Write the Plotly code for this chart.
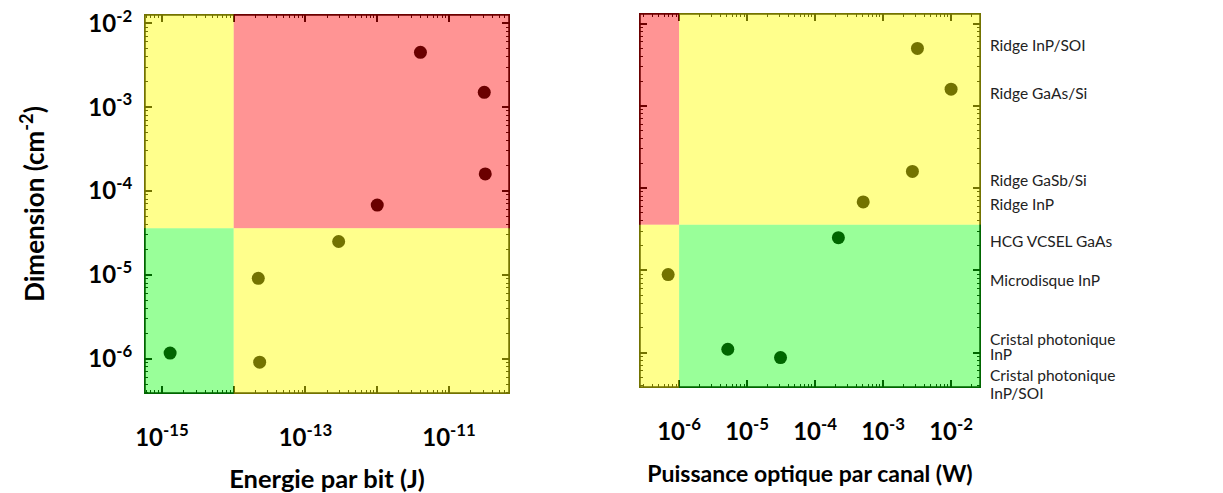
import plotly.graph_objects as go

# ---------------- data ----------------
energy_J = [4.0e-12, 3.1e-11, 3.2e-11, 1.0e-12, 2.9e-13, 2.2e-14, 2.3e-14, 1.3e-15]
dimension_left = [4.5e-3, 1.5e-3, 1.6e-4, 6.8e-5, 2.5e-5, 9.1e-6, 9.1e-7, 1.17e-6]

power_W = [3.2e-3, 1.0e-2, 2.7e-3, 5.1e-4, 2.2e-4, 6.9e-7, 5.2e-6, 3.1e-5]
dimension_right = [5.0e-3, 1.6e-3, 1.6e-4, 6.8e-5, 2.5e-5, 8.9e-6, 1.1e-6, 8.7e-7]

device_labels = ["Ridge InP/SOI", "Ridge GaAs/Si", "Ridge GaSb/Si", "Ridge InP",
                 "HCG VCSEL GaAs", "Microdisque InP",
                 "Cristal photonique<br>InP", "Cristal photonique<br>InP/SOI"]

energy_threshold = 1e-14
power_threshold = 1e-6
dimension_threshold = 3.6e-5

left_x_ticks = [1e-15, 1e-14, 1e-13, 1e-12, 1e-11, 1e-10]
left_x_text = ["10<sup>-15</sup>", " ", "10<sup>-13</sup>", " ", "10<sup>-11</sup>", " "]
right_x_ticks = [1e-6, 1e-5, 1e-4, 1e-3, 1e-2]
right_x_text = ["10<sup>-6</sup>", "10<sup>-5</sup>", "10<sup>-4</sup>", "10<sup>-3</sup>", "10<sup>-2</sup>"]
y_ticks = [1e-6, 1e-5, 1e-4, 1e-3, 1e-2]
y_text = ["10<sup>-6</sup>", "10<sup>-5</sup>", "10<sup>-4</sup>", "10<sup>-3</sup>", "10<sup>-2</sup>"]

# ---------------- layout helpers ----------------
W, H = 1223, 493
LX_RANGE = [-15.25, -10.15]
RX_RANGE = [-6.59, -1.56]
LY_RANGE = [-6.42, -1.89]
RY_RANGE = [-6.43, -1.87]

def minor_vals(lo, hi):
    vals = []
    for d in range(int(lo) - 1, int(hi) + 2):
        for m in range(2, 10):
            vals.append(m * 10.0 ** d)
    return vals

FONT = "Lato"
tickfont = dict(family=FONT, size=24, color="black", weight="bold")

def titlefont(size):
    return dict(family=FONT, size=size, color="black", weight="bold")

def axis_common(rng):
    return dict(
        type="log", range=rng, showgrid=False, zeroline=False, automargin=False,
        showline=True, linecolor="rgba(0,0,0,0)", linewidth=1, mirror="allticks",
        ticks="inside", ticklen=8, tickwidth=1.5, tickcolor="black",
        tickfont=tickfont, tickmode="array",
        minor=dict(ticks="inside", ticklen=4, tickwidth=1.2, tickcolor="black",
                   tickmode="array", tickvals=minor_vals(rng[0], rng[1]), showgrid=False),
    )

fig = go.Figure()
marker = dict(color="black", size=13)
fig.add_trace(go.Scatter(x=energy_J, y=dimension_left, mode="markers", marker=marker,
                         xaxis="x", yaxis="y", showlegend=False))
fig.add_trace(go.Scatter(x=power_W, y=dimension_right, mode="markers", marker=marker,
                         xaxis="x2", yaxis="y2", showlegend=False))

xa = axis_common(LX_RANGE)
xa.update(domain=[144 / W, 510 / W], anchor="y", tickvals=left_x_ticks, ticktext=left_x_text,
          ticklabelstandoff=22,
          title=dict(text="Energie par bit (J)", font=titlefont(25.5), standoff=22))
ya = axis_common(LY_RANGE)
ya.update(domain=[1 - 394 / H, 1 - 14 / H], anchor="x", tickvals=y_ticks, ticktext=y_text,
          ticklabelstandoff=6,
          title=dict(text="Dimension (cm<sup>-2</sup>)", font=titlefont(26), standoff=36))
xa2 = axis_common(RX_RANGE)
xa2.update(domain=[639 / W, 981 / W], anchor="y2", tickvals=right_x_ticks, ticktext=right_x_text,
           ticklabelstandoff=22,
           title=dict(text="Puissance optique par canal (W)", font=titlefont(23), standoff=22))
ya2 = axis_common(RY_RANGE)
ya2.update(domain=[1 - 388 / H, 1 - 13 / H], anchor="x2", tickvals=y_ticks,
           showticklabels=False)

BIG_LO, BIG_HI = 1e-30, 1e10
YEL, RED, GRN = "#FFFF00", "#FF0000", "#00FF00"
shapes = []

# panel frames (clipped to the plot area, later tinted by the region overlays)
for xr, yr, rx, ry in (("x", "y", LX_RANGE, LY_RANGE), ("x2", "y2", RX_RANGE, RY_RANGE)):
    shapes.append(dict(type="rect", xref=xr, yref=yr,
                       x0=10 ** rx[0], x1=10 ** rx[1], y0=10 ** ry[0], y1=10 ** ry[1],
                       fillcolor="rgba(0,0,0,0)", line=dict(color="black", width=3.5),
                       layer="above"))

def rect(xref, yref, x0, x1, y0, y1, color, op):
    shapes.append(dict(type="rect", xref=xref, yref=yref, x0=x0, x1=x1, y0=y0, y1=y1,
                       fillcolor=color, opacity=op, line=dict(width=0), layer="above"))

# left panel regions
rect("x", "y", BIG_LO, energy_threshold, dimension_threshold, BIG_HI, YEL, 0.45)
rect("x", "y", energy_threshold, BIG_HI, dimension_threshold, BIG_HI, RED, 0.42)
rect("x", "y", BIG_LO, energy_threshold, BIG_LO, dimension_threshold, GRN, 0.40)
rect("x", "y", energy_threshold, BIG_HI, BIG_LO, dimension_threshold, YEL, 0.45)
# right panel regions
rect("x2", "y2", BIG_LO, power_threshold, dimension_threshold, BIG_HI, RED, 0.42)
rect("x2", "y2", power_threshold, BIG_HI, dimension_threshold, BIG_HI, YEL, 0.45)
rect("x2", "y2", BIG_LO, power_threshold, BIG_LO, dimension_threshold, YEL, 0.45)
rect("x2", "y2", power_threshold, BIG_HI, BIG_LO, dimension_threshold, GRN, 0.40)

# right-side device labels (pixel rows of each text line)
label_rows = [[45], [93], [180], [204], [241], [280], [339, 354], [375, 393]]
annotations = []
for text, rows in zip(device_labels, label_rows):
    for line, row in zip(text.split("<br>"), rows):
        annotations.append(dict(text=line, xref="paper", yref="paper", x=988 / W, y=1 - row / H,
                                xanchor="left", yanchor="middle", showarrow=False,
                                font=dict(family=FONT, size=15.5, color="#222")))

fig.update_layout(
    width=W, height=H, margin=dict(l=0, r=0, t=0, b=0, autoexpand=False),
    paper_bgcolor="white", plot_bgcolor="white",
    xaxis=xa, yaxis=ya, xaxis2=xa2, yaxis2=ya2,
    shapes=shapes, annotations=annotations,
)

fig.write_html("out.html", config={"displayModeBar": False},
               post_script="document.body.style.margin='0px';document.body.style.overflow='hidden';")
